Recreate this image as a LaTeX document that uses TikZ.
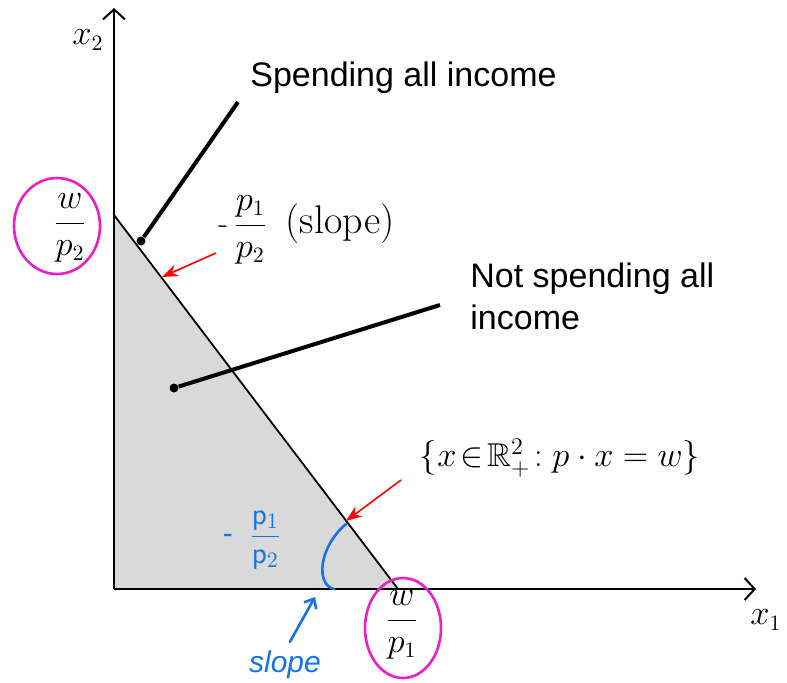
\documentclass[tikz,border=0pt]{standalone}
\usepackage{amsmath}
\usepackage{amssymb}
\usepackage{fontspec}
\newfontfamily\sanslbl{Liberation Sans}
\usetikzlibrary{positioning, arrows.meta, shapes.geometric}
\definecolor{handblue}{RGB}{20,115,230}
\definecolor{handpink}{RGB}{235,30,200}

\begin{document}
\begin{tikzpicture}[x=0.5pt, y=-0.5pt, >=Stealth]
    % Stili
    \tikzstyle{axis} = [line width=1pt, -{Straight Barb[length=5pt, width=11pt, line width=1pt]}]
    \tikzstyle{dot} = [circle, fill, inner sep=0pt, minimum size=4.5pt]
    \tikzstyle{lbl} = [font=\sanslbl\fontsize{17}{21}\selectfont, align=left, inner sep=0pt]
    \tikzstyle{mathlbl} = [font=\fontsize{16}{19}\selectfont, inner sep=0pt]
    \tikzstyle{ring} = [draw=handpink, line width=1.3pt, ellipse, inner sep=0pt]
    \tikzstyle{leader} = [line width=2pt]
    \tikzstyle{redarrow} = [draw=red, line width=0.8pt, -{Stealth[length=8pt, width=6pt]}]
    \tikzstyle{pen} = [draw=handblue, line width=1.3pt, line cap=round]
    \tikzstyle{pentext} = [text=handblue, inner sep=0pt]

    \useasboundingbox (0,0) rectangle (787,682);

    % Assi e retta di bilancio
    \coordinate (O) at (114,589);
    \coordinate (ytop) at (114,8);
    \coordinate (xend) at (756,589);
    \coordinate (A) at (114,215);
    \coordinate (B) at (398,589);
    \fill[gray!30] (O) -- (A) -- (B) -- cycle;
    \draw[line width=0.9pt] (A) -- (B);
    \draw[axis] (O) -- (ytop);
    \draw[axis] (O) -- (xend);

    % Nodi
    \node [mathlbl] (xtwo) at (88,40) {$x_2$};
    \node [mathlbl] (xone) at (766,620) {$x_1$};
    \node [mathlbl] (wptwo) at (70,228) {$\dfrac{w}{p_2}$};
    \node [ring, minimum width=43pt, minimum height=48pt] (ringtwo) at (57,226) {};
    \node [mathlbl] (wpone) at (402,625) {$\dfrac{w}{p_1}$};
    \node [ring, minimum width=38pt, minimum height=50pt] (ringone) at (403,628) {};

    \node [dot] (dotA) at (141,241) {};
    \node [lbl, anchor=west] (spend) at (250,78) {Spending all income};
    \coordinate (spendend) at (238,102);
    \node [dot] (dotB) at (174,388) {};
    \node [lbl, anchor=north west] (notspend) at (470,262) {Not spending all\\income};
    \coordinate (notend) at (440,305);

    \node [mathlbl, anchor=west] (slope) at (218,230) {-\,$\dfrac{p_1}{p_2}$\; {\fontsize{20}{22}\selectfont(slope)}};
    \coordinate (slopetail) at (216,253);
    \coordinate (hitA) at (162,277);
    \node [mathlbl, font=\fontsize{16.5}{19}\selectfont] (budget) at (560,458) {$\{x\!\in\!\mathbb{R}^2_+\!:p\cdot x = w\}$};
    \coordinate (budgettail) at (401,480);
    \coordinate (hitB) at (346,521);

    % Annotazioni a mano
    \node [pentext, font=\sanslbl\fontsize{15}{17}\selectfont] (handfrac) at (252,540) {-\;\;$\dfrac{\mathsf{p}_1}{\mathsf{p}_2}$};
    \coordinate (arctop) at (346,524);
    \coordinate (arcbot) at (334,589);
    \coordinate (marktip) at (315,597);
    \node [pentext, font=\sanslbl\itshape\fontsize{15}{17}\selectfont] (handslope) at (285,665) {slope};

    % Collegamenti
    \draw [leader] (dotA) -- (spendend);
    \draw [leader] (dotB) -- (notend);
    \draw [redarrow] (slopetail) -- (hitA);
    \draw [redarrow] (budgettail) -- (hitB);
    \draw [pen] (arctop) .. controls (318,548) and (316,585) .. (arcbot);
    \draw [pen, -{Straight Barb[length=4pt, width=7pt]}, shorten <=5pt] (handslope.north) -- (marktip);
\end{tikzpicture}
\end{document}
